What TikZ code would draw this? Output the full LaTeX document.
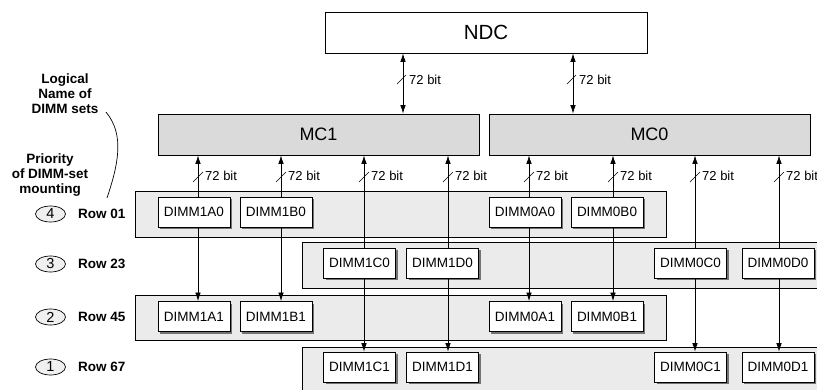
\documentclass[tikz,border=0pt]{standalone}
\usepackage{fontspec}
\setmainfont{Liberation Sans}
\usetikzlibrary{arrows.meta,shadows,shapes.geometric}
\definecolor{mcgray}{RGB}{218,218,218}
\definecolor{bandgray}{RGB}{235,235,235}
\definecolor{circgray}{RGB}{240,240,240}
\begin{document}
\begin{tikzpicture}[x=1pt,y=-1pt,
  dimm/.style={draw=black,line width=0.8pt,fill=white,minimum width=72pt,minimum height=30pt,inner sep=0pt,
    font=\fontsize{13.5}{15}\selectfont,
    drop shadow={shadow xshift=2pt,shadow yshift=-2pt,fill=black!55,opacity=1}},
  band/.style={draw=black,line width=0.9pt,fill=bandgray,inner sep=0pt},
  ctrl/.style={draw=black,line width=0.8pt,inner sep=0pt,font=\fontsize{18}{20}\selectfont},
  arr/.style={line width=0.7pt,-{Latex[length=8.5pt,width=5.5pt]}},
  darr/.style={line width=0.7pt,{Latex[length=8.5pt,width=5.5pt]}-{Latex[length=8.5pt,width=5.5pt]}},
  bitlbl/.style={anchor=west,inner sep=0pt,font=\fontsize{13}{15}\selectfont},
  sidelbl/.style={align=center,inner sep=0pt,font=\fontsize{13.5}{15}\selectfont\bfseries},
  rowlbl/.style={anchor=west,inner sep=0pt,font=\fontsize{13.5}{15}\selectfont\bfseries},
  prio/.style={ellipse,draw=black,line width=0.7pt,fill=circgray,minimum width=30pt,minimum height=16pt,inner sep=0pt,
    font=\fontsize{14.5}{15}\selectfont}
]
\clip (0,0) rectangle (817,389);

% row bands
\node[band,minimum width=531pt,minimum height=46pt] (r01) at (400.5,214) {};
\node[band,minimum width=530pt,minimum height=46pt] (r23) at (567,265) {};
\node[band,minimum width=531pt,minimum height=45pt] (r45) at (400.5,317.5) {};
\node[band,minimum width=530pt,minimum height=54pt] (r67) at (567,374) {};

% controllers
\node[ctrl,fill=white,minimum width=322pt,minimum height=41pt,font=\fontsize{20.5}{22}\selectfont] (ndc) at (486,32.5) {NDC};
\node[ctrl,fill=mcgray,minimum width=321pt,minimum height=41pt] (mc1) at (318.5,134.5) {MC1};
\node[ctrl,fill=mcgray,minimum width=321pt,minimum height=41pt] (mc0) at (649.5,134.5) {MC0};

% NDC <-> MC
\foreach \m/\lx in {mc1/403,mc0/573}{
  \draw[darr] (ndc.south -| \lx,0) -- (\m.north -| \lx,0);
  \draw[line width=0.6pt] (\lx-6,84) -- (\lx+3,75);
  \node[bitlbl] (bn\m) at (\lx+6,80) {72 bit};
}

% DIMM modules
\foreach \n/\x/\y in {1A0/194/212, 1B0/276/212, 0A0/525/212, 0B0/607/212,
                      1C0/359.5/263, 1D0/442.5/263, 0C0/690.5/263, 0D0/778/263,
                      1A1/194/316.5, 1B1/276/316.5, 0A1/525/316.5, 0B1/607/316.5,
                      1C1/359.5/367, 1D1/442.5/367, 0C1/690.5/367, 0D1/778/367}
  \node[dimm] (d\n) at (\x,\y) {DIMM\n};

% DIMM -> MC
\foreach \a/\m/\lx in {1A0/mc1/198, 1B0/mc1/281, 1C0/mc1/364, 1D0/mc1/448,
                       0A0/mc0/529, 0B0/mc0/613, 0C0/mc0/695, 0D0/mc0/779}{
  \draw[arr] (d\a.north -| \lx,0) -- (\m.south -| \lx,0);
  \draw[line width=0.6pt] (\lx-5,182) -- (\lx+5,172);
  \node[bitlbl] (b\a) at (\lx+7,176) {72 bit};
}

% DIMM row 0 -> row 1
\foreach \a/\b/\lx in {1A0/1A1/198, 1B0/1B1/281, 1C0/1C1/364, 1D0/1D1/448,
                       0A0/0A1/529, 0B0/0B1/613, 0C0/0C1/695, 0D0/0D1/779}
  \draw[arr] (d\a.south -| \lx,0) -- (d\b.north -| \lx,0);

% left side labels
\node[sidelbl] (lname) at (65,93.5) {Logical\\Name of\\DIMM sets};
\node[sidelbl] (lprio) at (50,175) {Priority\\of DIMM-set\\mounting};
\draw[line width=0.7pt] (106,112) .. controls (125,135) and (118,165) .. (107,198);

\foreach \k/\y/\r in {4/214/01, 3/264/23, 2/317/45, 1/367/67}{
  \node[prio] (p\k) at (50.5,\y) {\k};
  \node[rowlbl] (row\r) at (78,\y) {Row \r};
}
\end{tikzpicture}
\end{document}
